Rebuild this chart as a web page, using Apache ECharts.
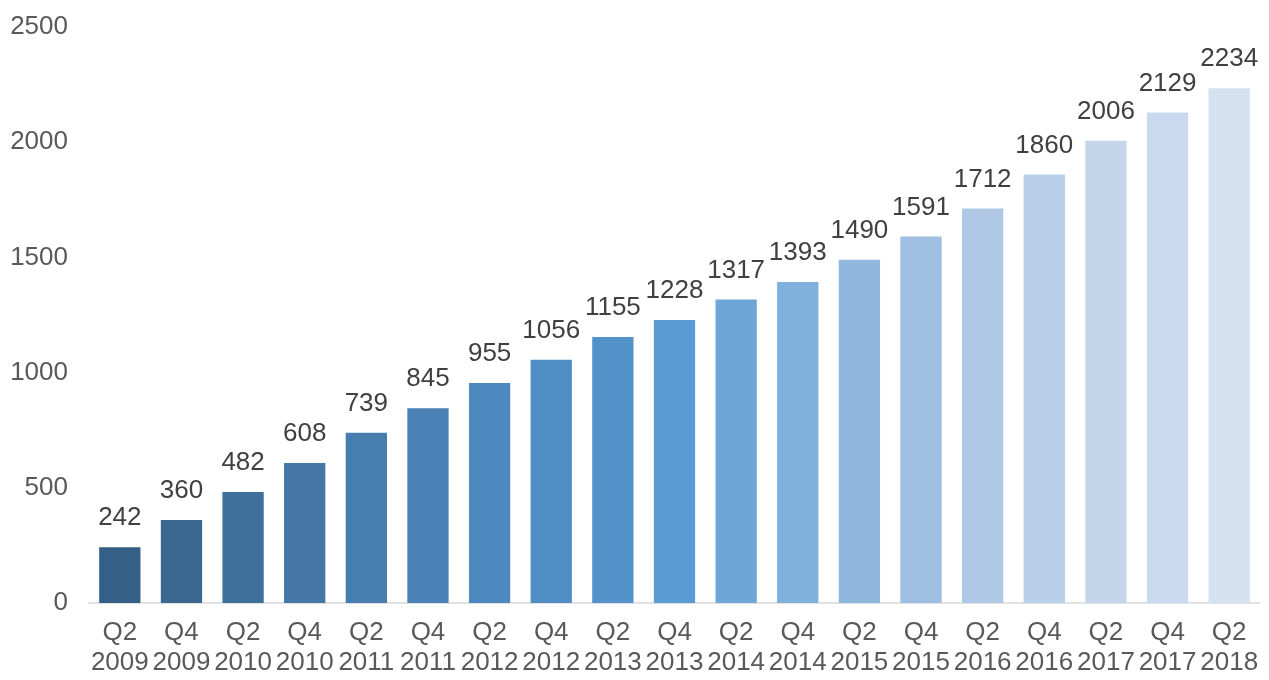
<!DOCTYPE html>
<html>
<head>
<meta charset="utf-8">
<script src="https://cdn.jsdelivr.net/npm/echarts@6/dist/echarts.min.js"></script>
<style>html,body{margin:0;padding:0;background:#fff;}#c{width:1269px;height:680px;}</style>
</head>
<body>
<div id="c"></div>
<script>
const categories = ["Q2\n2009","Q4\n2009","Q2\n2010","Q4\n2010","Q2\n2011","Q4\n2011","Q2\n2012","Q4\n2012","Q2\n2013","Q4\n2013","Q2\n2014","Q4\n2014","Q2\n2015","Q4\n2015","Q2\n2016","Q4\n2016","Q2\n2017","Q4\n2017","Q2\n2018"];
const values = [242,360,482,608,739,845,955,1056,1155,1228,1317,1393,1490,1591,1712,1860,2006,2129,2234];
const barColors = ["#345f86","#3a6790","#3f6f9b","#4477a6","#477daf","#4a82b6","#4d88bf","#508dc5","#5391cb","#5b9bd5","#6fa6d8","#80b0dc","#92b7df","#a0c0e3","#aec8e6","#b8cfe9","#c4d6ec","#cad9ed","#d4e1f0"];
const yTicks = [0,500,1000,1500,2000,2500];

const chart = echarts.init(document.getElementById('c'));
const font = 'Liberation Sans, Noto Sans, sans-serif';
chart.setOption({
  animation:false,
  grid:{left:89,right:9,top:27,bottom:77,containLabel:false},
  xAxis:{
    type:'category',
    data:categories,
    axisLine:{lineStyle:{color:'#d9d9d9',width:1.5}},
    axisTick:{show:false},
    axisLabel:{color:'#595959',fontSize:26,fontFamily:font,lineHeight:30,margin:15,interval:0}
  },
  yAxis:{
    type:'value',min:yTicks[0],max:yTicks[yTicks.length-1],interval:500,
    axisLine:{show:false},axisTick:{show:false},splitLine:{show:false},
    axisLabel:{color:'#595959',fontSize:26,fontFamily:font,margin:21,formatter:v=>String(v)}
  },
  series:[{
    type:'bar',
    data:values.map((v,i)=>({value:v,itemStyle:{color:barColors[i]}})),
    barCategoryGap:'33%',
    label:{show:true,position:'top',distance:16,color:'#404040',fontSize:26,fontFamily:font}
  }]
});
</script>
</body>
</html>
